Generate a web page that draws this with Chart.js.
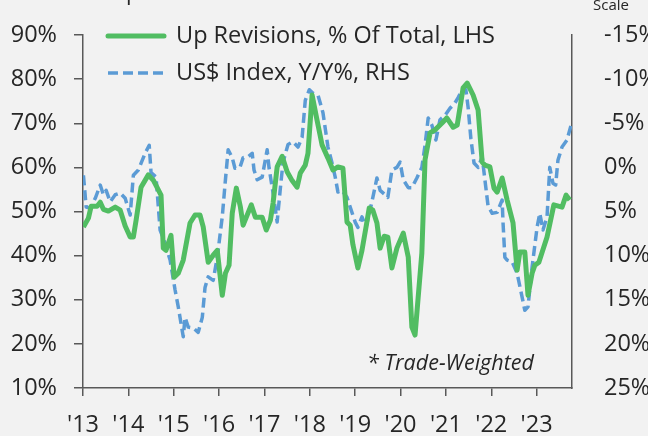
<!DOCTYPE html>
<html>
<head>
<meta charset="utf-8">
<script src="https://cdn.jsdelivr.net/npm/chart.js@4.4.0/dist/chart.umd.min.js"></script>
<style>
  html, body { margin: 0; padding: 0; background: #f2f2f2; }
  canvas { display: block; }
</style>
</head>
<body>
<canvas id="chart" width="648" height="436"></canvas>
<script>
// Up revisions, % of total (left axis)
const upDates = [
  2013.01, 2013.12, 2013.18, 2013.31, 2013.38, 2013.45, 2013.56, 2013.71, 2013.82, 2013.93,
  2014.04, 2014.11, 2014.17, 2014.28, 2014.44, 2014.55, 2014.72, 2014.77, 2014.83, 2014.94,
  2015.01, 2015.10, 2015.21, 2015.36, 2015.47, 2015.58, 2015.65, 2015.76, 2015.87, 2015.96,
  2016.07, 2016.14, 2016.22, 2016.29, 2016.38, 2016.47, 2016.53, 2016.71, 2016.80, 2016.95,
  2017.04, 2017.13, 2017.19, 2017.28, 2017.39, 2017.50, 2017.61, 2017.72, 2017.79, 2017.90,
  2017.96, 2018.05, 2018.16, 2018.27, 2018.40, 2018.51, 2018.62, 2018.73, 2018.82, 2018.89,
  2018.95, 2019.06, 2019.15, 2019.24, 2019.31, 2019.39, 2019.48, 2019.55, 2019.64, 2019.72,
  2019.81, 2019.92, 2020.06, 2020.17, 2020.25, 2020.32, 2020.47, 2020.54, 2020.65, 2020.76,
  2020.91, 2021.02, 2021.16, 2021.25, 2021.38, 2021.47, 2021.60, 2021.71, 2021.80, 2021.86,
  2021.97, 2022.06, 2022.13, 2022.24, 2022.35, 2022.48, 2022.57, 2022.63, 2022.74, 2022.81,
  2022.90, 2022.96, 2023.05, 2023.23, 2023.38, 2023.56, 2023.65, 2023.73
];
const upValues = [
  46.5, 48.5, 51.2, 51.2, 52.1, 50.5, 50.1, 51.0, 50.3, 46.7,
  44.2, 44.2, 48.0, 55.5, 58.3, 57.1, 53.7, 41.7, 41.2, 44.6,
  35.1, 36.0, 39.0, 47.4, 49.2, 49.2, 46.5, 38.5, 40.1, 41.2,
  31.0, 36.0, 37.8, 49.6, 55.3, 51.0, 46.9, 51.5, 48.7, 48.7,
  45.8, 48.0, 51.9, 60.1, 62.5, 59.0, 57.0, 55.5, 58.7, 60.5,
  63.2, 76.4, 70.7, 65.1, 62.1, 59.4, 60.1, 59.8, 47.6, 46.9,
  42.5, 37.2, 41.2, 46.5, 50.8, 50.3, 47.4, 41.7, 44.4, 44.2,
  37.2, 41.7, 45.1, 39.7, 23.8, 22.0, 40.6, 61.7, 67.8, 68.5,
  70.0, 71.2, 69.1, 69.6, 78.0, 79.1, 76.4, 73.0, 61.2, 60.5,
  60.1, 55.3, 54.4, 57.6, 52.6, 47.4, 36.7, 40.8, 40.8, 31.0,
  36.0, 37.8, 38.5, 44.2, 51.5, 51.0, 53.7, 52.6
];

// Trade-weighted US$ index, y/y % (right axis, inverted)
const usdDates = [
  2013.01, 2013.07, 2013.16, 2013.27, 2013.38, 2013.45, 2013.51, 2013.60, 2013.71, 2013.82,
  2013.93, 2014.04, 2014.11, 2014.22, 2014.37, 2014.46, 2014.50, 2014.61, 2014.70, 2014.81,
  2014.92, 2015.03, 2015.10, 2015.21, 2015.25, 2015.32, 2015.43, 2015.54, 2015.63, 2015.69,
  2015.76, 2015.87, 2015.96, 2016.07, 2016.14, 2016.20, 2016.29, 2016.35, 2016.46, 2016.53,
  2016.64, 2016.73, 2016.77, 2016.84, 2016.95, 2017.06, 2017.10, 2017.19, 2017.28, 2017.35,
  2017.41, 2017.52, 2017.63, 2017.74, 2017.83, 2017.90, 2017.99, 2018.07, 2018.18, 2018.29,
  2018.40, 2018.49, 2018.56, 2018.62, 2018.71, 2018.82, 2018.89, 2019.00, 2019.06, 2019.15,
  2019.24, 2019.33, 2019.39, 2019.48, 2019.55, 2019.66, 2019.72, 2019.81, 2019.92, 2019.99,
  2020.06, 2020.17, 2020.25, 2020.36, 2020.47, 2020.54, 2020.61, 2020.69, 2020.78, 2020.87,
  2020.98, 2021.09, 2021.20, 2021.27, 2021.38, 2021.44, 2021.49, 2021.55, 2021.62, 2021.71,
  2021.80, 2021.86, 2021.93, 2022.02, 2022.13, 2022.24, 2022.26, 2022.30, 2022.35, 2022.46,
  2022.57, 2022.68, 2022.74, 2022.81, 2022.90, 2023.01, 2023.07, 2023.14, 2023.23, 2023.29,
  2023.36, 2023.42, 2023.47, 2023.56, 2023.67, 2023.76
];
const usdValues = [
  0.9, 4.5, 4.6, 3.5, 2.0, 3.1, 2.6, 3.9, 3.1, 2.9,
  3.5, 5.4, 0.9, 0.3, -1.6, -2.5, 0.6, 1.1, 7.1, 8.6,
  10.5, 13.9, 15.8, 19.2, 17.0, 18.1, 18.2, 18.7, 17.0, 13.6,
  12.4, 12.8, 10.2, 5.6, 1.4, -2.0, -1.1, 0.1, 0.0, -1.1,
  -1.2, -1.6, 0.3, 1.4, 1.1, -2.0, 0.0, 2.9, 6.2, 2.4,
  -0.6, -2.6, -2.9, -2.3, -3.4, -7.6, -8.8, -8.4, -8.2, -6.2,
  -2.3, -0.5, 1.1, 2.8, 2.6, 3.4, 4.5, 6.2, 6.8, 5.6,
  6.8, 4.8, 3.4, 1.2, 2.6, 3.1, 3.4, 0.3, 0.0, -0.6,
  1.4, 2.3, 2.3, 1.2, 0.0, -2.5, -5.6, -4.8, -3.1, -5.4,
  -5.9, -6.7, -7.3, -7.9, -9.0, -8.8, -6.8, -3.3, -0.5, 0.0,
  -1.2, 1.4, 4.4, 5.2, 5.1, 3.7, 6.3, 10.2, 10.5, 10.7,
  12.0, 14.7, 16.2, 15.8, 11.3, 6.8, 5.2, 7.1, 5.6, 0.0,
  1.8, 2.0, -0.8, -2.3, -3.1, -4.8
];

const yearTicks = [2013, 2014, 2015, 2016, 2017, 2018, 2019, 2020, 2021, 2022, 2023];
const yearLabels = ["'13", "'14", "'15", "'16", "'17", "'18", "'19", "'20", "'21", "'22", "'23"];

const seriesNames = ['Up Revisions, % Of Total, LHS', 'US$ Index, Y/Y%, RHS'];
const GREEN = '#51bd62';
const BLUE = '#5b9bd5';
const AXIS = '#595959';
const TEXT = '#262626';
const FONT = "'Open Sans', 'Noto Sans', sans-serif";

Chart.defaults.font.family = FONT;
Chart.defaults.font.size = 23.5;
Chart.defaults.color = TEXT;

// y axes: fixed width, and no extra label padding pushing the plot down
const fixY = width => s => {
  s.width = width;
  s.paddingTop = 0;
  s.paddingBottom = 0;
};

// background, in-plot legend, footnote and the clipped header words
const decorations = {
  id: 'decorations',
  beforeDraw(chart) {
    const ctx = chart.ctx;
    ctx.save();
    ctx.fillStyle = '#f2f2f2';
    ctx.fillRect(0, 0, chart.width, chart.height);
    ctx.restore();
  },
  afterDraw(chart) {
    const ctx = chart.ctx;
    const area = chart.chartArea;
    ctx.save();
    ctx.fillStyle = TEXT;
    ctx.textBaseline = 'middle';
    ctx.font = '23.5px ' + FONT;

    const x0 = area.left + 25, x1 = area.left + 81, tx = area.left + 93;
    const rows = [area.top + 1, area.top + 38];
    chart.data.datasets.forEach((ds, i) => {
      ctx.beginPath();
      ctx.strokeStyle = ds.borderColor;
      ctx.lineWidth = ds.borderWidth;
      ctx.lineCap = i === 0 ? 'round' : 'butt';
      ctx.setLineDash(ds.borderDash || []);
      ctx.moveTo(x0, rows[i]);
      ctx.lineTo(x1, rows[i]);
      ctx.stroke();
      ctx.setLineDash([]);
      ctx.fillText(seriesNames[i], tx, rows[i]);
    });

    ctx.font = 'italic 21.5px ' + FONT;
    ctx.fillText('* Trade-Weighted', 367, 364);

    ctx.textBaseline = 'alphabetic';
    ctx.font = '15px ' + FONT;
    ctx.fillText('Scale', 593, 10);
    ctx.font = '22px ' + FONT;
    ctx.fillText('p', 126, 0);
    ctx.restore();
  }
};

new Chart(document.getElementById('chart'), {
  type: 'line',
  data: {
    datasets: [
      {
        label: seriesNames[0],
        data: upDates.map((d, i) => ({ x: d, y: upValues[i] })),
        yAxisID: 'yL',
        borderColor: GREEN,
        borderWidth: 5,
        pointRadius: 0,
        tension: 0
      },
      {
        label: seriesNames[1],
        data: usdDates.map((d, i) => ({ x: d, y: usdValues[i] })),
        yAxisID: 'yR',
        borderColor: BLUE,
        borderWidth: 3.5,
        borderDash: [10, 5],
        pointRadius: 0,
        tension: 0
      }
    ]
  },
  options: {
    responsive: false,
    animation: false,
    layout: { padding: { top: 35, left: 0, right: 0, bottom: 0 } },
    plugins: {
      legend: { display: false },
      tooltip: { enabled: false }
    },
    elements: {
      line: { borderJoinStyle: 'round', borderCapStyle: 'butt' }
    },
    scales: {
      x: {
        type: 'linear',
        min: 2013,
        max: 2023.78,
        afterFit: s => { s.height = 48; },
        afterBuildTicks: s => { s.ticks = yearTicks.map(v => ({ value: v })); },
        border: { color: AXIS, width: 1.5 },
        grid: { drawOnChartArea: false, drawTicks: true, tickLength: 8, color: AXIS, lineWidth: 1.5 },
        ticks: {
          padding: 15,
          maxRotation: 0,
          autoSkip: false,
          callback: v => yearLabels[yearTicks.indexOf(Math.round(v))]
        }
      },
      yL: {
        position: 'left',
        min: 10,
        max: 90,
        afterFit: fixY(83),
        border: { color: AXIS, width: 1.5 },
        grid: { drawOnChartArea: false, drawTicks: true, tickLength: 9, color: AXIS, lineWidth: 1.5 },
        ticks: { stepSize: 10, padding: 17, callback: v => v + '%' }
      },
      yR: {
        position: 'right',
        reverse: true,
        min: -15,
        max: 25,
        afterFit: fixY(76),
        border: { color: AXIS, width: 1.5 },
        grid: { drawOnChartArea: false, drawTicks: false },
        ticks: { stepSize: 5, padding: 32, callback: v => v + '%' }
      }
    }
  },
  plugins: [decorations]
});
</script>
</body>
</html>
